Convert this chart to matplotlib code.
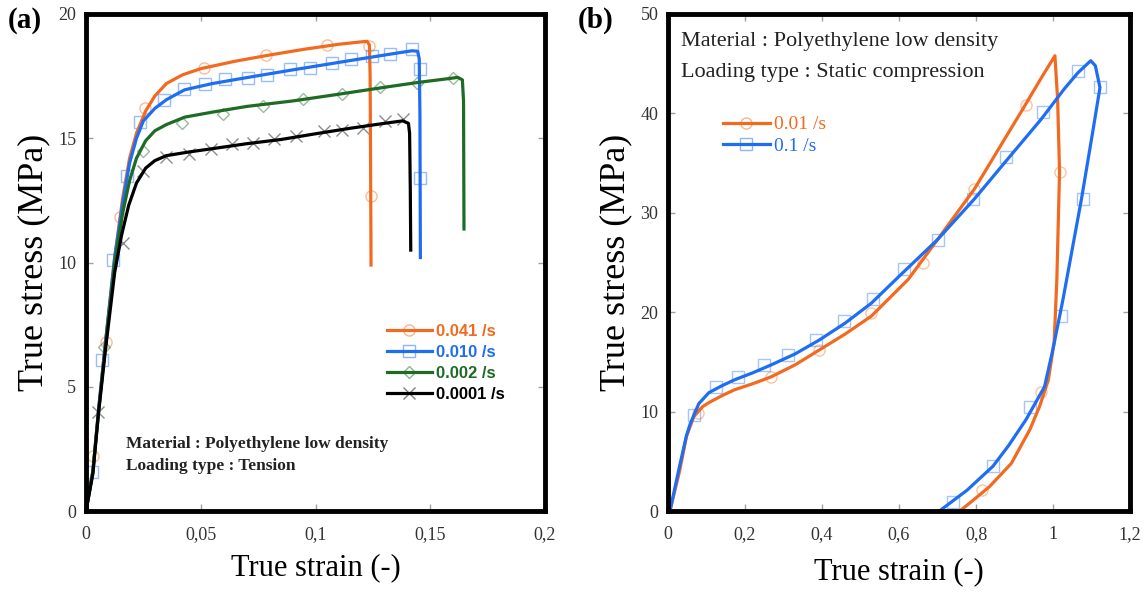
import matplotlib
matplotlib.use("Agg")
import matplotlib.pyplot as plt
from matplotlib.lines import Line2D
from matplotlib.ticker import FuncFormatter

plt.rcParams["font.family"] = "serif"
plt.rcParams["font.serif"] = ["Liberation Serif", "DejaVu Serif"]

# ---- panel (a): tension, four strain rates ----
rates_a = ["0.041 /s", "0.010 /s", "0.002 /s", "0.0001 /s"]

orange_x = [0, 0.003, 0.0055, 0.0085, 0.0125, 0.016, 0.019, 0.022, 0.026, 0.030, 0.035, 0.042,
            0.05, 0.065, 0.08, 0.095, 0.11, 0.12, 0.1225, 0.1235, 0.1238, 0.124, 0.1242]
orange_y = [0, 1.6, 4.1, 6.8, 10.2, 12.6, 14.2, 15.2, 16.1, 16.7, 17.2, 17.55,
            17.8, 18.1, 18.35, 18.58, 18.78, 18.88, 18.9, 18.75, 17.5, 14.0, 9.9]

blue_x = [0, 0.003, 0.0055, 0.0085, 0.0125, 0.016, 0.019, 0.022, 0.025, 0.03, 0.035, 0.043,
          0.055, 0.07, 0.09, 0.10, 0.12, 0.135, 0.142, 0.1445, 0.1452, 0.1455, 0.1457]
blue_y = [0, 1.6, 4.1, 6.8, 10.2, 12.4, 14.0, 15.0, 15.7, 16.2, 16.55, 16.95,
          17.2, 17.44, 17.75, 17.9, 18.2, 18.42, 18.52, 18.5, 18.2, 16.0, 10.2]

green_x = [0, 0.003, 0.0055, 0.0085, 0.0125, 0.016, 0.019, 0.022, 0.026, 0.03, 0.035, 0.043,
           0.055, 0.07, 0.09, 0.11, 0.13, 0.145, 0.158, 0.162, 0.164, 0.1645, 0.1647]
green_y = [0, 1.6, 4.0, 6.7, 10.0, 12.0, 13.3, 14.2, 14.9, 15.3, 15.55, 15.85,
           16.05, 16.28, 16.5, 16.77, 17.05, 17.25, 17.4, 17.45, 17.35, 16.5, 11.35]

black_x = [0, 0.003, 0.0054, 0.0085, 0.0125, 0.0155, 0.0186, 0.022, 0.026, 0.03, 0.035, 0.045,
           0.055, 0.07, 0.085, 0.10, 0.115, 0.13, 0.138, 0.1405, 0.141, 0.1413, 0.1415]
black_y = [0, 1.5, 3.9, 6.5, 9.6, 11.1, 12.3, 13.2, 13.8, 14.1, 14.3, 14.45,
           14.58, 14.78, 14.95, 15.18, 15.4, 15.6, 15.7, 15.6, 15.2, 13.0, 10.5]

# experimental points (open markers)
orange_mk_x = [0.0031, 0.0085, 0.0147, 0.0258, 0.0512, 0.0785, 0.1052, 0.1234, 0.1240]
orange_mk_y = [2.22, 6.8, 11.85, 16.2, 17.84, 18.35, 18.77, 18.72, 12.66]
blue_mk_x = [0.0028, 0.007, 0.0116, 0.0178, 0.0237, 0.0341, 0.0426, 0.0519, 0.0605, 0.0705,
             0.079, 0.0891, 0.0977, 0.107, 0.1155, 0.1248, 0.1326, 0.1419, 0.1457, 0.1457]
blue_mk_y = [1.55, 6.06, 10.1, 13.47, 15.65, 16.52, 16.97, 17.17, 17.37, 17.44,
             17.53, 17.77, 17.84, 18.04, 18.18, 18.32, 18.38, 18.59, 17.78, 13.39]
green_mk_x = [0.0078, 0.0248, 0.0419, 0.0597, 0.077, 0.0946, 0.1116, 0.1279, 0.1442, 0.16]
green_mk_y = [6.6, 14.48, 15.62, 15.99, 16.30, 16.56, 16.77, 17.05, 17.24, 17.44]
black_mk_x = [0.0054, 0.016, 0.0248, 0.0349, 0.045, 0.0543, 0.0636, 0.0729, 0.082, 0.0915,
              0.1039, 0.1116, 0.1209, 0.1302, 0.138]
black_mk_y = [3.97, 10.8, 13.7, 14.24, 14.36, 14.55, 14.75, 14.81, 14.95, 15.08,
              15.28, 15.35, 15.42, 15.69, 15.76]

# ---- panel (b): static compression loop ----
rates_b = ["0.01 /s", "0.1 /s"]

b_orange_x = [0.005, 0.03, 0.048, 0.067, 0.09, 0.106, 0.14, 0.173, 0.22, 0.268, 0.33, 0.393,
              0.46, 0.528, 0.58, 0.624, 0.70, 0.796, 0.86, 0.921, 0.97, 1.005, 1.012, 1.017,
              1.010, 1.003, 0.988, 0.965, 0.940, 0.892, 0.835, 0.79, 0.758]
b_orange_y = [0, 4.0, 7.5, 9.5, 10.5, 10.9, 11.6, 12.2, 12.8, 13.5, 14.7, 16.2,
              17.8, 19.6, 21.6, 23.3, 27.3, 32.4, 36.5, 40.4, 43.6, 45.8, 41.4, 34.1,
              23.3, 17.0, 13.2, 10.5, 8.2, 4.8, 2.45, 1.0, 0.0]

b_blue_x = [0.005, 0.03, 0.048, 0.058, 0.08, 0.106, 0.14, 0.173, 0.22, 0.268, 0.33, 0.393,
            0.46, 0.528, 0.60, 0.70, 0.796, 0.88, 0.969, 1.03, 1.065, 1.098, 1.11, 1.122,
            1.103, 1.074, 1.026, 1.00, 0.978, 0.93, 0.885, 0.844, 0.777, 0.705]
b_blue_y = [0, 4.5, 7.6, 8.8, 10.8, 11.9, 12.6, 13.2, 13.9, 14.7, 15.8, 17.2,
            18.9, 20.9, 23.6, 27.3, 31.4, 35.3, 39.4, 42.5, 44.1, 45.3, 44.8, 42.6,
            38.1, 31.4, 21.3, 16.3, 12.5, 9.2, 6.6, 4.5, 2.1, 0]

b_orange_mk_x = [0.077, 0.268, 0.393, 0.528, 0.662, 0.796, 0.929, 1.017, 0.969, 0.815]
b_orange_mk_y = [9.85, 13.5, 16.2, 19.9, 25.0, 32.4, 40.8, 34.1, 12.0, 2.1]
b_blue_mk_x = [0.067, 0.125, 0.182, 0.249, 0.312, 0.384, 0.456, 0.532, 0.614, 0.70,
               0.793, 0.878, 0.974, 1.065, 1.122, 1.079, 1.022, 0.940, 0.844, 0.739]
b_blue_mk_y = [9.7, 12.5, 13.5, 14.7, 15.7, 17.2, 19.1, 21.3, 24.3, 27.3,
               31.4, 35.6, 40.1, 44.3, 42.7, 31.4, 19.6, 10.5, 4.5, 0.94]

ORANGE = "#F26A1F"
BLUE = "#1F6DF2"
GREEN = "#1D6B25"
BLACK = "#000000"


def comma(v, pos):
    return f"{v:g}".replace(".", ",")


def style_axes(ax):
    for s in ax.spines.values():
        s.set_linewidth(3.5)
        s.set_color("black")
    ax.tick_params(direction="in", length=5, width=1, color="#a0a0a0",
                   top=True, right=True, labelsize=13, labelcolor="#333333")
    ax.tick_params(axis="x", pad=11)
    ax.tick_params(axis="y", pad=7)
    ax.xaxis.set_major_formatter(FuncFormatter(comma))
    ax.yaxis.set_major_formatter(FuncFormatter(comma))


fig = plt.figure(figsize=(11.48, 5.94), dpi=100)
W, H = 1148, 594
ax1 = fig.add_axes([86 / W, 83 / H, 459 / W, 497 / H])
ax2 = fig.add_axes([668 / W, 83 / H, 462 / W, 497 / H])

# panel a
curves_a = [(orange_x, orange_y, orange_mk_x, orange_mk_y, ORANGE, "o"),
            (blue_x, blue_y, blue_mk_x, blue_mk_y, BLUE, "s"),
            (green_x, green_y, green_mk_x, green_mk_y, GREEN, "D"),
            (black_x, black_y, black_mk_x, black_mk_y, BLACK, "x")]
handles = []
for (cx, cy, mx, my, c, m), lab in zip(curves_a, rates_a):
    ms = 6.5 if m == "D" else 8
    ax1.plot(mx, my, ls="none", marker=m, ms=ms, mfc="none", mec=c, mew=1,
             alpha=0.45, zorder=1, clip_on=False)
    ax1.plot(cx, cy, color=c, lw=2.3, zorder=2)
    handles.append(Line2D([], [], color=c, lw=2.3, marker=m, ms=ms, mfc="none",
                          mec=matplotlib.colors.to_rgba(c, 0.5), mew=1, label=lab))

ax1.set_xlim(0, 0.2)
ax1.set_ylim(0, 20)
ax1.set_xticks([0, 0.05, 0.1, 0.15, 0.2])
ax1.set_yticks([0, 5, 10, 15, 20])
style_axes(ax1)
ax1.set_xlabel("True strain (-)", fontsize=22)
ax1.set_ylabel("True stress (MPa)", fontsize=26)
ax1.xaxis.set_label_coords(0.5, -0.085)
ax1.yaxis.set_label_coords(-0.078, 0.5)

leg = ax1.legend(handles=handles, loc="upper left", bbox_to_anchor=(0.655, 0.377),
                 frameon=False, handlelength=2.7, handletextpad=0.25,
                 labelspacing=0.36, borderpad=0, borderaxespad=0,
                 prop={"family": "Liberation Sans", "weight": "bold", "size": 12})
for t, (_, _, _, _, c, _) in zip(leg.get_texts(), curves_a):
    t.set_color(c)

ax1.text(0.088, 0.135, "Material : Polyethylene low density", transform=ax1.transAxes,
         fontsize=12.5, fontweight="bold", va="center", color="#222222")
ax1.text(0.088, 0.091, "Loading type : Tension", transform=ax1.transAxes,
         fontsize=12.5, fontweight="bold", va="center", color="#222222")

# panel b
curves_b = [(b_orange_x, b_orange_y, b_orange_mk_x, b_orange_mk_y, ORANGE, "o"),
            (b_blue_x, b_blue_y, b_blue_mk_x, b_blue_mk_y, BLUE, "s")]
handles_b = []
for (cx, cy, mx, my, c, m), lab in zip(curves_b, rates_b):
    ax2.plot(mx, my, ls="none", marker=m, ms=8, mfc="none", mec=c, mew=1,
             alpha=0.4, zorder=1, clip_on=False)
    ax2.plot(cx, cy, color=c, lw=2.3, zorder=2)
    handles_b.append(Line2D([], [], color=c, lw=2.3, marker=m, ms=8, mfc="none",
                            mec=matplotlib.colors.to_rgba(c, 0.5), mew=1, label=lab))

ax2.set_xlim(0, 1.2)
ax2.set_ylim(0, 50)
ax2.set_xticks([0, 0.2, 0.4, 0.6, 0.8, 1.0, 1.2])
ax2.set_yticks([0, 10, 20, 30, 40, 50])
style_axes(ax2)
ax2.set_xlabel("True strain (-)", fontsize=22)
ax2.set_ylabel("True stress (MPa)", fontsize=26)
ax2.xaxis.set_label_coords(0.5, -0.092)
ax2.yaxis.set_label_coords(-0.078, 0.5)

leg2 = ax2.legend(handles=handles_b, loc="upper left", bbox_to_anchor=(0.118, 0.795),
                  frameon=False, handlelength=2.45, handletextpad=0.2,
                  labelspacing=0.2, borderpad=0, borderaxespad=0,
                  prop={"family": "Liberation Serif", "size": 14})
for t, c in zip(leg2.get_texts(), [ORANGE, BLUE]):
    t.set_color(c)

ax2.text(0.029, 0.944, "Material : Polyethylene low density", transform=ax2.transAxes,
         fontsize=16, va="center", color="#222222")
ax2.text(0.029, 0.883, "Loading type : Static compression", transform=ax2.transAxes,
         fontsize=16, va="center", color="#222222")

# panel letters
fig.text(8 / W, 1 - 20 / H, "(a)", fontsize=21, fontweight="bold", va="center")
fig.text(578 / W, 1 - 20 / H, "(b)", fontsize=21, fontweight="bold", va="center")

fig.savefig("out.png", dpi=100)
